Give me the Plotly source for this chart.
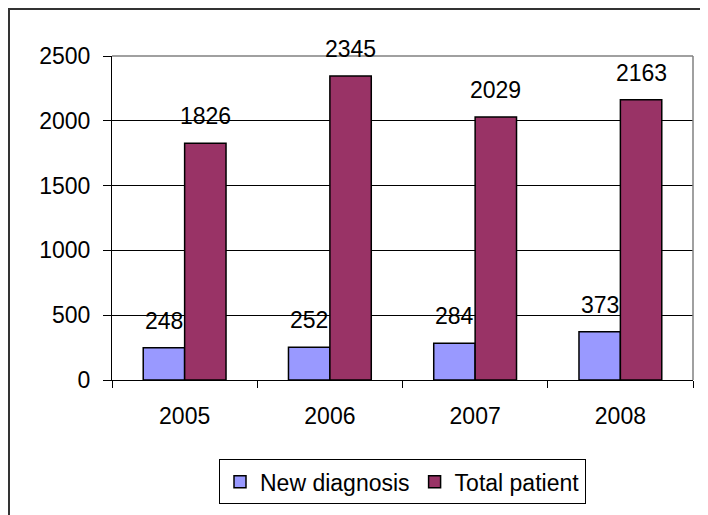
import plotly.graph_objects as go

years = ["2005", "2006", "2007", "2008"]
new_diagnosis = [248, 252, 284, 373]
total_patient = [1826, 2345, 2029, 2163]

FONT = "Liberation Sans, Arial, sans-serif"

fig = go.Figure()
fig.add_trace(
    go.Bar(
        name="New diagnosis",
        x=years,
        y=new_diagnosis,
        marker=dict(color="#9999FF", line=dict(color="black", width=1.5)),
    )
)
fig.add_trace(
    go.Bar(
        name="Total patient",
        x=years,
        y=total_patient,
        marker=dict(color="#993366", line=dict(color="black", width=1.5)),
    )
)

# value labels sit well above each bar, like the Excel original
# (category axis: annotations are placed by category index)
annotations = []
for series, shift in ((new_diagnosis, -20.75), (total_patient, 20.75)):
    for i, v in enumerate(series):
        annotations.append(
            dict(
                x=i, y=v, text=str(v), showarrow=False,
                xshift=shift, yshift=12, yanchor="bottom",
                font=dict(size=23, color="black", family=FONT),
            )
        )

fig.update_layout(
    width=708,
    height=515,
    margin=dict(l=104, r=23, t=48, b=143, autoexpand=False),
    paper_bgcolor="white",
    plot_bgcolor="white",
    font=dict(family=FONT, size=23, color="black"),
    barmode="group",
    bargap=0.43,
    bargroupgap=0,
    showlegend=True,
    legend=dict(
        orientation="h",
        x=0.5,
        xanchor="center",
        y=-0.245,
        yanchor="top",
        bordercolor="black",
        borderwidth=1,
        font=dict(size=23),
        tracegroupgap=0,
    ),
    xaxis=dict(
        type="category",
        range=[-0.5, 3.5],
        automargin=False,
        showline=True,
        linecolor="black",
        linewidth=1,
        ticks="outside",
        tickson="boundaries",
        ticklen=7,
        tickcolor="black",
        ticklabelstandoff=15,
        tickangle=0,
        showgrid=False,
    ),
    yaxis=dict(
        automargin=False,
        range=[0, 2500],
        dtick=500,
        showline=True,
        linecolor="black",
        linewidth=1,
        ticks="outside",
        ticklen=8,
        tickcolor="black",
        ticklabelstandoff=8,
        gridcolor="black",
        gridwidth=1,
        zeroline=False,
    ),
    annotations=annotations,
    shapes=[
        dict(type="line", xref="paper", yref="paper", x0=0, x1=1, y0=1, y1=1,
             line=dict(color="#808080", width=1.5), layer="above"),
        dict(type="line", xref="paper", yref="paper", x0=1, x1=1, y0=0, y1=1,
             line=dict(color="#808080", width=1.5), layer="above"),
        dict(type="rect", xref="paper", yref="paper", x0=-0.1773, x1=1.5,
             y0=-1.0, y1=1.145, line=dict(color="#333333", width=2)),
    ],
)

fig.write_html("out.html")
